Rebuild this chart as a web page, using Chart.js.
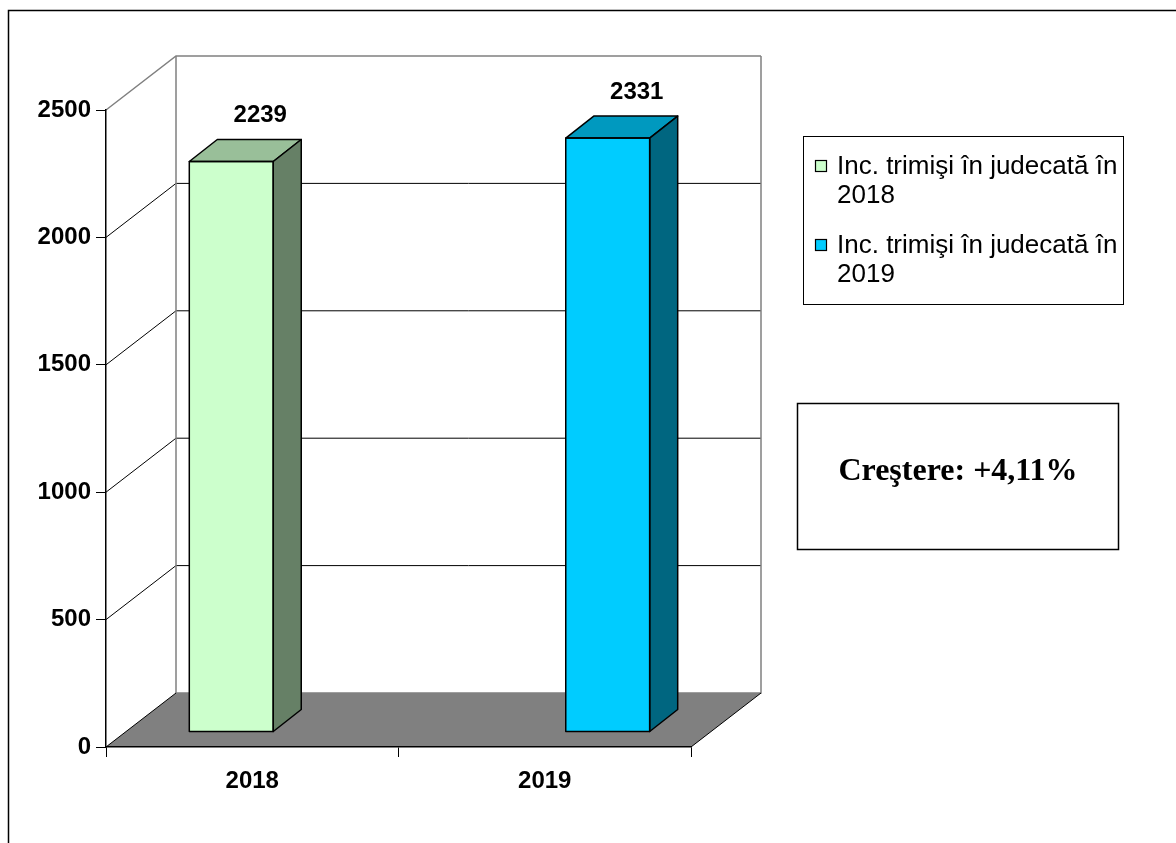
<!DOCTYPE html>
<html lang="ro">
<head>
    <meta charset="UTF-8">
    <title>Inc. trimişi în judecată</title>
    <script src="https://cdn.jsdelivr.net/npm/chart.js"></script>
    <style>
        body {
            margin: 0;
            background-color: #ffffff;
        }
        #wrap {
            width: 1176px;
            height: 843px;
        }
    </style>
</head>
<body>
    <div id="wrap">
        <canvas id="chart" width="1176" height="843"></canvas>
    </div>

    <script>
        // data
        const categories = ['2018', '2019'];
        const seriesLabels = ['Inc. trimişi în judecată în 2018', 'Inc. trimişi în judecată în 2019'];
        const values2018 = [2239, null];
        const values2019 = [null, 2331];
        const yTickMin = 0;
        const yTickMax = 2500;
        const yTickStep = 500;

        // colours: front / top / side of each column
        const frontColors = ['#CCFFCC', '#00CCFF'];
        const topColors = ['#99BF99', '#0099BF'];
        const sideColors = ['#668066', '#006680'];

        // 3d look, in pixels
        const WALL_DX = 70, WALL_DY = 54;   // depth of the whole plot box
        const BAR_SHIFT_X = 21, BAR_SHIFT_Y = 15; // column front sits a bit behind the front plane
        const BAR_DX = 28, BAR_DY = 22;     // depth of a column

        const FONT = "'Liberation Sans', Arial, sans-serif";
        const growth = (values2019[1] - values2018[0]) / values2018[0] * 100;
        const growthText = 'Creştere: +' + growth.toFixed(2).replace('.', ',') + '%';

        const excel3d = {
            id: 'excel3d',
            beforeDraw(chart) {
                const ctx = chart.ctx;
                const ca = chart.chartArea;
                const y = chart.scales.y;
                ctx.save();
                ctx.fillStyle = '#ffffff';
                ctx.fillRect(0, 0, chart.width, chart.height);

                // outer frame
                ctx.strokeStyle = '#000000';
                ctx.lineWidth = 1.5;
                ctx.strokeRect(8.5, 10.5, chart.width + 20, chart.height + 20);

                // floor
                const b = y.getPixelForValue(yTickMin);
                ctx.fillStyle = '#808080';
                ctx.beginPath();
                ctx.moveTo(ca.left, b);
                ctx.lineTo(ca.right, b);
                ctx.lineTo(ca.right + WALL_DX, b - WALL_DY);
                ctx.lineTo(ca.left + WALL_DX, b - WALL_DY);
                ctx.closePath();
                ctx.fill();

                // gridlines on side wall and back wall
                for (let v = yTickMin + yTickStep; v <= yTickMax; v += yTickStep) {
                    const py = y.getPixelForValue(v);
                    ctx.strokeStyle = v === yTickMax ? '#808080' : '#000000';
                    ctx.lineWidth = v === yTickMax ? 1.5 : 1;
                    ctx.beginPath();
                    ctx.moveTo(ca.left, py);
                    ctx.lineTo(ca.left + WALL_DX, py - WALL_DY);
                    ctx.lineTo(ca.right + WALL_DX, py - WALL_DY);
                    ctx.stroke();
                }

                // back wall edges
                const t = y.getPixelForValue(yTickMax);
                ctx.strokeStyle = '#808080';
                ctx.lineWidth = 1.5;
                ctx.beginPath();
                ctx.moveTo(ca.left + WALL_DX, t - WALL_DY);
                ctx.lineTo(ca.left + WALL_DX, b - WALL_DY);
                ctx.lineTo(ca.right + WALL_DX, b - WALL_DY);
                ctx.lineTo(ca.right + WALL_DX, t - WALL_DY);
                ctx.stroke();

                // floor side edges
                ctx.strokeStyle = '#000000';
                ctx.lineWidth = 1;
                ctx.beginPath();
                ctx.moveTo(ca.left, b);
                ctx.lineTo(ca.left + WALL_DX, b - WALL_DY);
                ctx.moveTo(ca.right, b);
                ctx.lineTo(ca.right + WALL_DX, b - WALL_DY);
                ctx.stroke();
                ctx.restore();
            },
            beforeDatasetsDraw(chart) {
                chart.ctx.save();
                chart.ctx.translate(BAR_SHIFT_X, -BAR_SHIFT_Y);
            },
            afterDatasetsDraw(chart) {
                const ctx = chart.ctx;
                chart.data.datasets.forEach((ds, di) => {
                    const meta = chart.getDatasetMeta(di);
                    meta.data.forEach((el, i) => {
                        if (ds.data[i] == null) return;
                        const p = el.getProps(['x', 'y', 'base', 'width'], true);
                        const l = p.x - p.width / 2, r = p.x + p.width / 2;
                        ctx.lineWidth = 1.5;
                        ctx.strokeStyle = '#000000';
                        ctx.lineJoin = 'round';
                        // top face
                        ctx.fillStyle = topColors[di];
                        ctx.beginPath();
                        ctx.moveTo(l, p.y);
                        ctx.lineTo(l + BAR_DX, p.y - BAR_DY);
                        ctx.lineTo(r + BAR_DX, p.y - BAR_DY);
                        ctx.lineTo(r, p.y);
                        ctx.closePath();
                        ctx.fill();
                        ctx.stroke();
                        // side face
                        ctx.fillStyle = sideColors[di];
                        ctx.beginPath();
                        ctx.moveTo(r, p.y);
                        ctx.lineTo(r + BAR_DX, p.y - BAR_DY);
                        ctx.lineTo(r + BAR_DX, p.base - BAR_DY);
                        ctx.lineTo(r, p.base);
                        ctx.closePath();
                        ctx.fill();
                        ctx.stroke();
                        // front outline
                        ctx.strokeRect(l, p.y, p.width, p.base - p.y);
                    });
                });
                ctx.restore();

                // value labels
                ctx.save();
                ctx.font = 'bold 24px ' + FONT;
                ctx.fillStyle = '#000000';
                ctx.textAlign = 'center';
                ctx.textBaseline = 'middle';
                chart.data.datasets.forEach((ds, di) => {
                    const meta = chart.getDatasetMeta(di);
                    meta.data.forEach((el, i) => {
                        if (ds.data[i] == null) return;
                        ctx.fillText(String(ds.data[i]),
                            el.x + BAR_SHIFT_X + BAR_DX / 2 + 15,
                            el.y - BAR_SHIFT_Y - BAR_DY - 24);
                    });
                });
                ctx.restore();
            },
            afterDraw(chart) {
                const ctx = chart.ctx;
                ctx.save();

                // legend box
                ctx.strokeStyle = '#000000';
                ctx.lineWidth = 1;
                ctx.strokeRect(803.5, 136.5, 320, 168);
                ctx.font = '26px ' + FONT;
                ctx.textBaseline = 'middle';
                ctx.textAlign = 'left';
                let ly = 167;
                chart.data.datasets.forEach((ds, di) => {
                    ctx.fillStyle = frontColors[di];
                    ctx.fillRect(815.5, ly - 6.5, 11, 11);
                    ctx.strokeStyle = '#000000';
                    ctx.lineWidth = 1.2;
                    ctx.strokeRect(815.5, ly - 6.5, 11, 11);
                    // wrap text to the box
                    const words = ds.label.split(' ');
                    const lines = [];
                    let cur = '';
                    words.forEach(w => {
                        const test = cur ? cur + ' ' + w : w;
                        if (ctx.measureText(test).width > 284 && cur) {
                            lines.push(cur);
                            cur = w;
                        } else {
                            cur = test;
                        }
                    });
                    lines.push(cur);
                    ctx.fillStyle = '#000000';
                    lines.forEach((line, k) => ctx.fillText(line, 837, ly + k * 29));
                    ly += 79;
                });

                // growth note
                ctx.lineWidth = 1.5;
                ctx.strokeRect(797.5, 403.5, 321, 146);
                ctx.font = "bold 32px 'Liberation Serif', 'Times New Roman', serif";
                ctx.textAlign = 'center';
                ctx.fillText(growthText, 958, 472);
                ctx.restore();
            }
        };

        const ctx = document.getElementById('chart').getContext('2d');
        const chart = new Chart(ctx, {
            type: 'bar',
            data: {
                labels: categories,
                datasets: [{
                    label: seriesLabels[0],
                    data: values2018,
                    backgroundColor: frontColors[0],
                    borderWidth: 0,
                    categoryPercentage: 0.574,
                    barPercentage: 1.0,
                    clip: false
                }, {
                    label: seriesLabels[1],
                    data: values2019,
                    backgroundColor: frontColors[1],
                    borderWidth: 0,
                    categoryPercentage: 0.574,
                    barPercentage: 1.0,
                    clip: false
                }]
            },
            options: {
                responsive: false,
                animation: false,
                layout: {
                    padding: { left: 0, top: 110, right: 485, bottom: 0 }
                },
                scales: {
                    x: {
                        offset: true,
                        grid: {
                            offset: true,
                            drawOnChartArea: false,
                            tickLength: 10,
                            color: '#000000'
                        },
                        border: { color: '#000000', width: 1.5 },
                        ticks: {
                            color: '#000000',
                            padding: 10,
                            font: { family: FONT, size: 24, weight: 'bold' }
                        },
                        afterFit(scale) { scale.height = 96; }
                    },
                    y: {
                        min: yTickMin,
                        max: yTickMax,
                        grid: {
                            drawOnChartArea: false,
                            tickLength: 10,
                            color: '#000000'
                        },
                        border: { color: '#000000', width: 1.5 },
                        ticks: {
                            stepSize: yTickStep,
                            color: '#000000',
                            padding: 5,
                            font: { family: FONT, size: 24, weight: 'bold' },
                            callback: v => String(v)
                        },
                        afterFit(scale) { scale.width = 106; }
                    }
                },
                plugins: {
                    legend: { display: false },
                    tooltip: { enabled: false }
                }
            },
            plugins: [excel3d]
        });
    </script>
</body>
</html>
